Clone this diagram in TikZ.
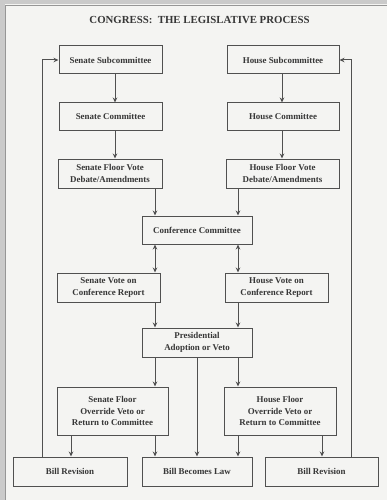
\documentclass[tikz,border=0pt]{standalone}
\usepackage{fontspec}
\setmainfont{Liberation Serif}
\usepackage{tikz}
\usetikzlibrary{arrows.meta, positioning}
\definecolor{paper}{RGB}{244,244,242}
\definecolor{inkgray}{RGB}{55,55,55}
\definecolor{linegray}{RGB}{80,80,80}
\definecolor{scanedge}{RGB}{150,150,150}

\begin{document}
\begin{tikzpicture}[
      x=1pt, y=-1pt,
      box/.style={draw=linegray, line width=1pt, fill=paper,
                  minimum height=28pt, inner sep=1pt,
                  align=center, font=\bfseries\fontsize{8.9}{11.8}\selectfont,
                  text=inkgray},
      arrow/.style={-{Stealth[length=5pt, width=4.5pt]}, line width=1pt, color=linegray},
      twoway/.style={{Stealth[length=5pt, width=4.5pt]}-{Stealth[length=5pt, width=4.5pt]},
                     line width=1pt, color=linegray},
  ]
    % page and scan edge
    \fill[paper] (0,0) rectangle (387,500);
    \useasboundingbox (0,0) rectangle (387,500);
    \fill[scanedge!50] (0,0) rectangle (387,4.5);
    \fill[scanedge!50] (0,0) rectangle (4.5,500);
    \draw[scanedge, line width=0.8pt] (5,500) -- (5,5) -- (387,5);

    \node[font=\bfseries\fontsize{10.8}{12}\selectfont, text=inkgray] (title) at (199.5,20)
         {CONGRESS:\ \ THE LEGISLATIVE PROCESS};

    % senate and house chambers
    \node[box, minimum width=103pt] (ssub)   at (110.5,60)  {Senate Subcommittee};
    \node[box, minimum width=112pt] (hsub)   at (283,60)    {House Subcommittee};
    \node[box, minimum width=103pt, minimum height=27pt] (scom) at (110.5,116.5) {Senate Committee};
    \node[box, minimum width=112pt, minimum height=27pt] (hcom) at (283,116.5)   {House Committee};
    \node[box, minimum width=104pt, minimum height=29pt] (sfloor) at (110,173.5)
         {Senate Floor Vote\\Debate/Amendments};
    \node[box, minimum width=113pt, minimum height=29pt] (hfloor) at (282.5,173.5)
         {House Floor Vote\\Debate/Amendments};

    % joint steps
    \node[box, minimum width=110pt] (conf) at (197,230) {Conference Committee};
    \node[box, minimum width=103pt, minimum height=29pt] (svote) at (108.5,287.5)
         {Senate Vote on\\Conference Report};
    \node[box, minimum width=103pt, minimum height=29pt] (hvote) at (276.5,287.5)
         {House Vote on\\Conference Report};
    \node[box, minimum width=110pt, minimum height=29pt] (pres) at (197,342.5)
         {Presidential\\Adoption or Veto};
    \node[box, minimum width=111pt, minimum height=48pt,
          font=\bfseries\fontsize{8.9}{11.4}\selectfont] (sover) at (112.5,411)
         {Senate Floor\\Override Veto or\\Return to Committee};
    \node[box, minimum width=112pt, minimum height=48pt,
          font=\bfseries\fontsize{8.9}{11.4}\selectfont] (hover) at (280,411)
         {House Floor\\Override Veto or\\Return to Committee};

    % outcomes
    \node[box, minimum width=114pt, minimum height=29pt] (brevL) at (70,471.5)  {Bill Revision};
    \node[box, minimum width=110pt, minimum height=29pt] (law)   at (197,471.5) {Bill Becomes Law};
    \node[box, minimum width=113pt, minimum height=29pt] (brevR) at (321.5,471.5) {Bill Revision};

    % arrow columns
    \coordinate (colS)  at (115,0);
    \coordinate (colH)  at (282,0);
    \coordinate (midS)  at (155,0);
    \coordinate (midH)  at (238,0);
    \coordinate (midC)  at (197,0);
    \coordinate (outL)  at (71,0);
    \coordinate (outR)  at (322,0);
    \coordinate (backL) at (42,0);
    \coordinate (backR) at (351,0);

    \draw[arrow] (ssub.south -| colS) -- (scom.north -| colS);
    \draw[arrow] (scom.south -| colS) -- (sfloor.north -| colS);
    \draw[arrow] (hsub.south -| colH) -- (hcom.north -| colH);
    \draw[arrow] (hcom.south -| colH) -- (hfloor.north -| colH);

    \draw[arrow] (sfloor.south -| midS) -- (conf.north -| midS);
    \draw[arrow] (hfloor.south -| midH) -- (conf.north -| midH);
    \draw[twoway] (conf.south -| midS) -- (svote.north -| midS);
    \draw[twoway] (conf.south -| midH) -- (hvote.north -| midH);
    \draw[arrow] (svote.south -| midS) -- (pres.north -| midS);
    \draw[arrow] (hvote.south -| midH) -- (pres.north -| midH);

    \draw[arrow] (pres.south -| midS) -- (sover.north -| midS);
    \draw[arrow] (pres.south -| midH) -- (hover.north -| midH);
    \draw[arrow] (pres.south -| midC) -- (law.north -| midC);

    \draw[arrow] (sover.south -| outL) -- (brevL.north -| outL);
    \draw[arrow] (sover.south -| midS) -- (law.north -| midS);
    \draw[arrow] (hover.south -| midH) -- (law.north -| midH);
    \draw[arrow] (hover.south -| outR) -- (brevR.north -| outR);

    % back to the subcommittees
    \draw[arrow] (brevL.north -| backL) |- (ssub.west);
    \draw[arrow] (brevR.north -| backR) |- (hsub.east);

  \end{tikzpicture}
\end{document}
